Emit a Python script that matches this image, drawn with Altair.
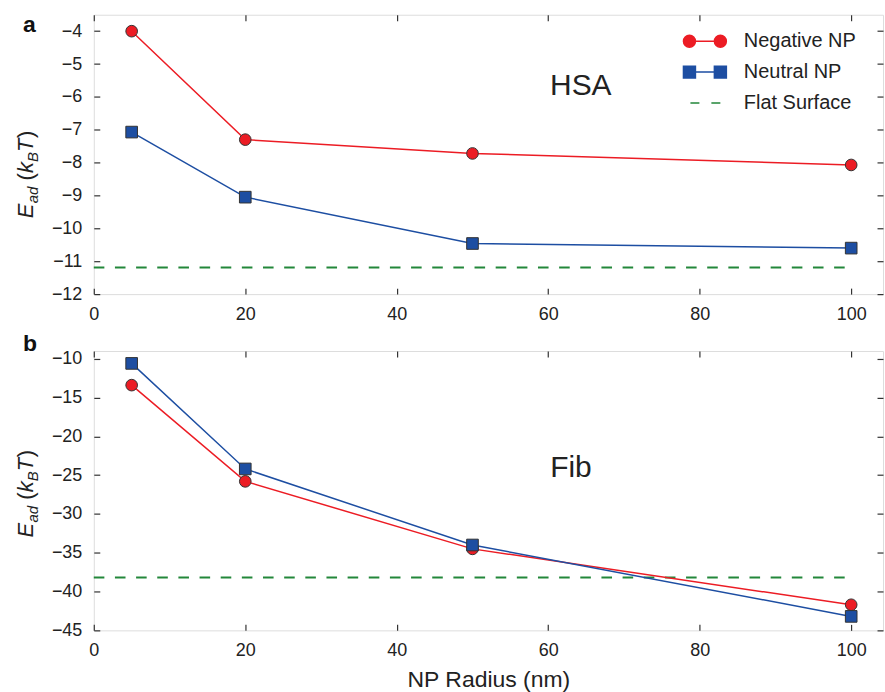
import altair as alt
import pandas as pd

# ---------------- data ----------------
radius = [5, 20, 50, 100]
hsa_negative = [-4.0, -7.3, -7.72, -8.07]
hsa_neutral = [-7.07, -9.05, -10.46, -10.6]
hsa_flat = -11.19
fib_negative = [-13.4, -25.8, -34.5, -41.7]
fib_neutral = [-10.6, -24.2, -34.0, -43.2]
fib_flat = -38.2
flat_extent = [0, 100]
series_names = ["Negative NP", "Neutral NP", "Flat Surface"]
x_ticks = [0, 20, 40, 60, 80, 100]
hsa_ticks = [-12, -11, -10, -9, -8, -7, -6, -5, -4]
fib_ticks = [-45, -40, -35, -30, -25, -20, -15, -10]

FONT = "Liberation Sans"
RED = "#ec1c24"
BLUE = "#1d4ea2"
GREEN = "#23873a"
INK = "#222222"
EDGE = "#333333"


def fmt(v):
    return f"{v:.3f}".rstrip("0").rstrip(".")


def circle_path(cx, r):
    k = 0.5523 * r
    p = [
        f"M{fmt(cx - r)},0",
        f"C{fmt(cx - r)},{fmt(-k)} {fmt(cx - k)},{fmt(-r)} {fmt(cx)},{fmt(-r)}",
        f"C{fmt(cx + k)},{fmt(-r)} {fmt(cx + r)},{fmt(-k)} {fmt(cx + r)},0",
        f"C{fmt(cx + r)},{fmt(k)} {fmt(cx + k)},{fmt(r)} {fmt(cx)},{fmt(r)}",
        f"C{fmt(cx - k)},{fmt(r)} {fmt(cx - r)},{fmt(k)} {fmt(cx - r)},0Z",
    ]
    return "".join(p)


def square_path(cx, h):
    return (f"M{fmt(cx - h)},{fmt(-h)}L{fmt(cx + h)},{fmt(-h)}"
            f"L{fmt(cx + h)},{fmt(h)}L{fmt(cx - h)},{fmt(h)}Z")


C = 2.583
neg_symbol = circle_path(-C, 1) + f"M{fmt(-C + 1)},0L{fmt(C - 1)},0" + circle_path(C, 1)
neu_symbol = square_path(-C, 1) + f"M{fmt(-C + 1)},0L{fmt(C - 1)},0" + square_path(C, 1)
flat_symbol = "M-2.42,0L-0.92,0M1.08,0L2.58,0"

xs = alt.Scale(domain=[0, 104.2], nice=False, zero=False)


def panel(neg, neu, flat, y_domain, y_ticks, label, label_y, protein, prot_x, prot_y,
          title_y, show_legend, x_title):
    df = pd.DataFrame({
        "radius": radius * 2,
        "E": neg + neu,
        "series": [series_names[0]] * len(radius) + [series_names[1]] * len(radius),
    })
    flat_df = pd.DataFrame({"radius": flat_extent, "E": [flat] * len(flat_extent)})
    ys = alt.Scale(domain=y_domain, nice=False, zero=False)
    cscale = alt.Scale(domain=series_names[:2], range=[RED, BLUE])

    common = dict(domain=False, grid=False, ticks=True, tickSize=6, offset=-6,
                  tickColor=EDGE, tickWidth=1.2, labelFont=FONT, labelFontSize=18,
                  labelColor=INK, labelFlush=False)
    bottom = alt.Axis(orient="bottom", values=x_ticks, labelPadding=11,
                      title=x_title if x_title else None, titleFont=FONT, titleFontSize=23,
                      titleFontWeight="normal", titleColor=INK, titlePadding=9, **common)
    left = alt.Axis(orient="left", values=y_ticks, labelPadding=12, title=None, **common)
    top = alt.Axis(orient="top", values=x_ticks, labels=False, title=None,
                   **{k: v for k, v in common.items() if not k.startswith("label")})
    right = alt.Axis(orient="right", values=y_ticks, labels=False, title=None,
                     **{k: v for k, v in common.items() if not k.startswith("label")})

    flat_layer = alt.Chart(flat_df).mark_line(
        color=GREEN, strokeWidth=2, strokeDash=[10.6, 10.6]
    ).encode(
        x=alt.X("radius:Q", scale=xs, axis=bottom),
        y=alt.Y("E:Q", scale=ys, axis=left),
    )

    lines = alt.Chart(df).mark_line(strokeWidth=1.5).encode(
        x=alt.X("radius:Q", scale=xs, axis=top),
        y=alt.Y("E:Q", scale=ys, axis=right),
        color=alt.Color("series:N", scale=cscale, legend=None),
        detail="series:N",
    )

    pts = []
    for name, shape in [(series_names[0], "circle"), (series_names[1], "square")]:
        pts.append(
            alt.Chart(df).transform_filter(alt.datum.series == name).mark_point(
                shape=shape, filled=True, size=136, stroke=EDGE, strokeWidth=1, opacity=1
            ).encode(
                x=alt.X("radius:Q", scale=xs, axis=None),
                y=alt.Y("E:Q", scale=ys, axis=None),
                color=alt.Color("series:N", scale=cscale, legend=None),
            )
        )

    prot = alt.Chart(pd.DataFrame({"radius": [prot_x], "E": [prot_y], "t": [protein]})).mark_text(
        font=FONT, fontSize=30, color=INK, align="center", baseline="alphabetic"
    ).encode(
        x=alt.X("radius:Q", scale=xs, axis=None),
        y=alt.Y("E:Q", scale=ys, axis=None),
        text="t:N",
    )

    lab = alt.Chart(pd.DataFrame({"t": [label]})).mark_text(
        font=FONT, fontSize=23, fontWeight="bold", color="#111111",
        align="left", baseline="alphabetic"
    ).encode(x=alt.value(-71), y=alt.value(label_y), text="t:N")

    # y axis title: E_ad (k_B T)
    pieces = [
        ("E", 22, "italic", 0, 0),
        ("ad", 15, "italic", 15, 5),
        ("(", 22, "normal", 38, 0),
        ("k", 22, "italic", 45.5, 0),
        ("B", 15, "italic", 56.5, 5),
        ("T", 22, "italic", 66.5, 0),
        (")", 22, "normal", 80.5, 0),
    ]
    title_layers = []
    for txt, fs, style, dx, dy in pieces:
        title_layers.append(
            alt.Chart(pd.DataFrame({"t": [txt]})).mark_text(
                font=FONT, fontSize=fs, fontStyle=style, color=INK, angle=270,
                align="left", baseline="alphabetic", dx=dx, dy=dy
            ).encode(x=alt.value(-61), y=alt.value(title_y), text="t:N")
        )

    layers = [flat_layer, lines] + pts + [prot, lab] + title_layers

    if show_legend:
        leg = alt.Legend(
            title=None, orient="none", legendX=602.5, legendY=16.5, padding=0,
            symbolSize=144, symbolStrokeWidth=1.5, labelFont=FONT, labelFontSize=20,
            labelColor=INK, labelOffset=29, rowPadding=11,
        )
        carrier = alt.Chart(pd.DataFrame({"series": series_names})).transform_filter(
            "false"
        ).mark_point(filled=True, size=144, opacity=1).encode(
            shape=alt.Shape("series:N", scale=alt.Scale(domain=series_names,
                            range=[neg_symbol, neu_symbol, flat_symbol]), legend=leg),
            fill=alt.Fill("series:N", scale=alt.Scale(domain=series_names,
                          range=[RED, BLUE, "transparent"]), legend=leg),
            stroke=alt.Stroke("series:N", scale=alt.Scale(domain=series_names,
                              range=[RED, BLUE, GREEN]), legend=leg),
        )
        layers.append(carrier)

    return alt.layer(*layers).resolve_axis(x="independent", y="independent").properties(
        width=791, height=280
    )


pa = panel(hsa_negative, hsa_neutral, hsa_flat, [-12, -3.5], hsa_ticks, "a", 17,
           "HSA", 64.3, -5.94, 204, True, None)
pb = panel(fib_negative, fib_neutral, fib_flat, [-45, -9], fib_ticks, "b", 0,
           "Fib", 63.0, -25.2, 187, False, "NP Radius (nm)")

chart = alt.vconcat(pa, pb, spacing=57, bounds="flush").properties(
    padding={"left": 14, "top": 12, "right": 0, "bottom": 0}
).configure_view(stroke=EDGE, strokeWidth=1.5).configure(background="white")

chart.save("out.html", embed_options={"renderer": "svg", "actions": False})
